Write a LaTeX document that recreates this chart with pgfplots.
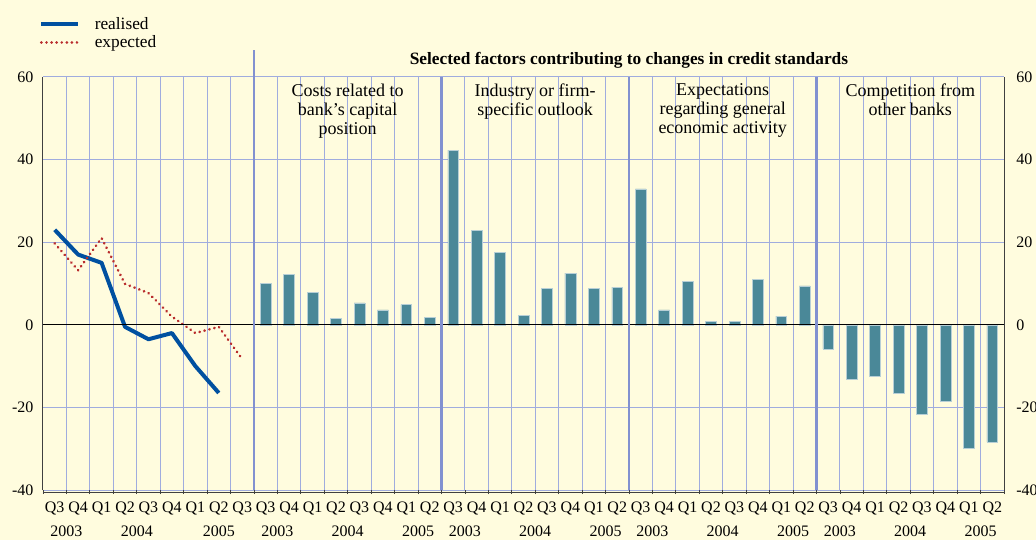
\documentclass[border=0pt]{standalone}
\usepackage{pgfplots}
\pgfplotsset{compat=1.18}
\usepackage{fontspec}
\setmainfont{Liberation Serif}
\definecolor{bg}{RGB}{255,252,222}
\definecolor{barc}{RGB}{74,136,152}
\definecolor{gridc}{RGB}{160,172,222}
\definecolor{sepc}{RGB}{130,145,208}
\definecolor{realc}{RGB}{0,80,160}
\definecolor{expc}{RGB}{185,45,45}
\begin{document}
\fontsize{12}{14}\selectfont
\begin{tikzpicture}
\fill[bg] (-32.25pt,-37.5pt) rectangle (744.75pt,367.5pt);
\useasboundingbox (-32.25pt,-37.5pt) rectangle (744.75pt,367.5pt);
\begin{axis}[
  scale only axis, width=720.75pt, height=309.75pt,
  xmin=0, xmax=41, ymin=-40, ymax=60,
  clip=false,
  axis line style={draw=none},
  xtick={0.5,1.5,...,40.5},
  xticklabels={Q3,Q4,Q1,Q2,Q3,Q4,Q1,Q2,Q3,
    Q3,Q4,Q1,Q2,Q3,Q4,Q1,Q2,
    Q3,Q4,Q1,Q2,Q3,Q4,Q1,Q2,
    Q3,Q4,Q1,Q2,Q3,Q4,Q1,Q2,
    Q3,Q4,Q1,Q2,Q3,Q4,Q1,Q2},
  minor xtick={0,1,...,41},
  xminorgrids=true,
  minor grid style={gridc, line width=0.75pt},
  major tick length=0pt,
  minor tick length=3pt,
  xtick align=outside,
  xtick pos=bottom,
  every minor tick/.append style={black!75, line width=0.6pt},
  xticklabel style={font=\fontsize{12}{14}\selectfont, yshift=-5pt},
  ytick={-40,-20,0,20,40,60},
  yticklabels={-40,-20,0,20,40,60},
  ytick pos=left,
  yticklabel style={font=\fontsize{12}{14}\selectfont, xshift=-3pt},
  ymajorgrids=true,
  major grid style={gridc, line width=0.75pt},
  legend style={at={(axis description cs:-0.004,1.152)}, anchor=north west,
    draw=none, fill=none, font=\fontsize{13}{15}\selectfont,
    row sep=-1pt, inner sep=0pt,
    /tikz/every odd column/.append style={column sep=9pt}},
  legend cell align=left,
  legend image code/.code={\draw[#1] (0pt,0pt) -- (27.5pt,0pt);},
]
% bars
\addplot[ybar, bar width=0.46, fill=barc, draw=barc!40!white, line width=0.4pt, forget plot] coordinates {
  (9.5,10) (10.5,12.2) (11.5,7.9) (12.5,1.5) (13.5,5.3) (14.5,3.6) (15.5,4.9) (16.5,1.8)
  (17.5,42.3) (18.5,22.8) (19.5,17.6) (20.5,2.2) (21.5,8.9) (22.5,12.5) (23.5,8.9) (24.5,9.1)
  (25.5,32.9) (26.5,3.6) (27.5,10.5) (28.5,0.9) (29.5,0.8) (30.5,11.0) (31.5,2.1) (32.5,9.4)
  (33.5,-5.9) (34.5,-13.1) (35.5,-12.4) (36.5,-16.6) (37.5,-21.6) (38.5,-18.4) (39.5,-30.0) (40.5,-28.4)
};
\addplot[realc, line width=3pt, line join=round] coordinates {
  (0.5,23) (1.5,17) (2.5,15) (3.5,-0.5) (4.5,-3.5) (5.5,-2) (6.5,-10) (7.5,-16.5)
};
\addlegendentry{realised}
\addplot[expc, line width=2.2pt, line cap=round, dash pattern=on 0.01pt off 3.8pt] coordinates {
  (0.5,19.7) (1.5,13.2) (2.5,21) (3.5,9.9) (4.5,7.7) (5.5,2) (6.5,-2) (7.5,-0.5) (8.5,-8.3)
};
\addlegendentry{expected}
% zero line and axis lines
\draw[black, line width=0.75pt] (axis cs:0,0) -- (axis cs:41,0);
\draw[black!75, line width=0.75pt] (axis cs:0,-40) -- (axis cs:0,60);
\draw[black!75, line width=0.75pt] (axis cs:41,-40) -- (axis cs:41,60);
\draw[black!75, line width=0.6pt] ([yshift=-1.5pt]axis cs:0,-40) -- ([yshift=-1.5pt]axis cs:41,-40);
% separators
\draw[sepc, line width=2pt] (axis cs:9,-40) -- ([yshift=20.5pt]axis cs:9,60);
\draw[sepc, line width=2pt] (axis cs:17,-40) -- (axis cs:17,60);
\draw[sepc, line width=2pt] (axis cs:25,-40) -- (axis cs:25,60);
\draw[sepc, line width=2pt] (axis cs:33,-40) -- (axis cs:33,60);
% right tick labels
\node[anchor=west, inner sep=0pt, xshift=9pt] at (axis cs:41,-40) {-40};
\node[anchor=west, inner sep=0pt, xshift=9pt] at (axis cs:41,-20) {-20};
\node[anchor=west, inner sep=0pt, xshift=9pt] at (axis cs:41,0) {0};
\node[anchor=west, inner sep=0pt, xshift=9pt] at (axis cs:41,20) {20};
\node[anchor=west, inner sep=0pt, xshift=9pt] at (axis cs:41,40) {40};
\node[anchor=west, inner sep=0pt, xshift=9pt] at (axis cs:41,60) {60};
% title
\node[font=\bfseries\fontsize{13}{15}\selectfont, anchor=base] at ([yshift=9pt]axis cs:25,60) {Selected factors contributing to changes in credit standards};
% panel labels
\node[anchor=north, align=center, inner sep=0pt, yshift=-5pt, font=\fontsize{13.5}{14.25}\selectfont] at (axis cs:13,60) {Costs related to\\bank’s capital\\position};
\node[anchor=north, align=center, inner sep=0pt, yshift=-5pt, font=\fontsize{13.5}{14.25}\selectfont] at (axis cs:21,60) {Industry or firm-\\specific outlook};
\node[anchor=north, align=center, inner sep=0pt, yshift=-5pt, font=\fontsize{13.5}{14.25}\selectfont] at (axis cs:29,60) {Expectations\\regarding general\\economic activity};
\node[anchor=north, align=center, inner sep=0pt, yshift=-5pt, font=\fontsize{13.5}{14.25}\selectfont] at (axis cs:37,60) {Competition from\\other banks};
% year labels
\node[anchor=base, yshift=-35pt] at (axis cs:1,-40) {2003};
\node[anchor=base, yshift=-35pt] at (axis cs:4,-40) {2004};
\node[anchor=base, yshift=-35pt] at (axis cs:7.5,-40) {2005};
\node[anchor=base, yshift=-35pt] at (axis cs:10,-40) {2003};
\node[anchor=base, yshift=-35pt] at (axis cs:13,-40) {2004};
\node[anchor=base, yshift=-35pt] at (axis cs:16,-40) {2005};
\node[anchor=base, yshift=-35pt] at (axis cs:18,-40) {2003};
\node[anchor=base, yshift=-35pt] at (axis cs:21,-40) {2004};
\node[anchor=base, yshift=-35pt] at (axis cs:24,-40) {2005};
\node[anchor=base, yshift=-35pt] at (axis cs:26,-40) {2003};
\node[anchor=base, yshift=-35pt] at (axis cs:29,-40) {2004};
\node[anchor=base, yshift=-35pt] at (axis cs:32,-40) {2005};
\node[anchor=base, yshift=-35pt] at (axis cs:34,-40) {2003};
\node[anchor=base, yshift=-35pt] at (axis cs:37,-40) {2004};
\node[anchor=base, yshift=-35pt] at (axis cs:40,-40) {2005};
\end{axis}
\end{tikzpicture}
\end{document}
